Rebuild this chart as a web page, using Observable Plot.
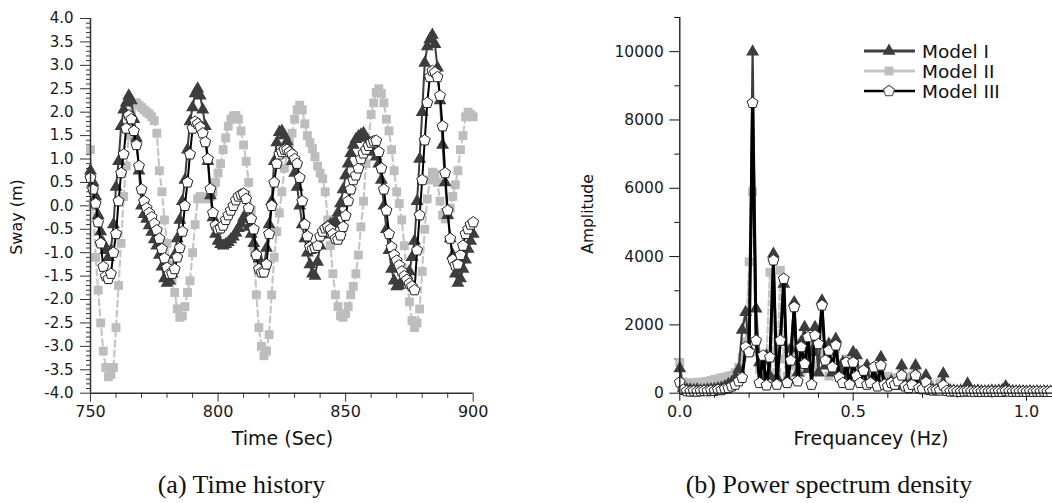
<!DOCTYPE html>
<html><head><meta charset="utf-8">
<script src="https://cdn.jsdelivr.net/npm/d3@7"></script>
<script src="https://cdn.jsdelivr.net/npm/@observablehq/plot@0.6"></script>
<style>
body{margin:0;background:#fff;}
#wrap{position:relative;width:1052px;height:503px;overflow:hidden;background:#fff;}
</style></head><body><div id="wrap"></div>
<script>
// ---------- DATA ----------
const seriesNames = ["Model I", "Model II", "Model III"];

// (a) Time history: sway (m) sampled every 1 s from 750 s to 900 s
const time = d3.range(750, 901, 1);
const swayModelI = [
 0.75,0.5,0.2,-0.2,-0.55,-0.8,-0.95,-1.1,-0.95,-0.4,
 0.4,0.95,1.7,2.05,2.2,2.35,2.25,1.85,1.45,0.75,
 0.0,-0.18,-0.28,-0.42,-0.56,-0.72,-0.85,-1.05,-1.3,-1.55,
 -1.65,-1.6,-1.45,-1.05,-0.7,-0.3,0.1,0.55,1.2,1.8,
 2.1,2.4,2.5,2.35,2.05,1.7,0.95,0.22,-0.25,-0.6,
 -0.75,-0.82,-0.85,-0.82,-0.78,-0.72,-0.66,-0.58,-0.48,-0.38,
 -0.25,-0.28,-0.45,-0.6,-0.8,-1.0,-1.13,-1.28,-1.3,-0.9,
 -0.4,0.1,0.95,1.35,1.57,1.6,1.5,1.38,1.2,0.95,
 0.7,0.4,0.0,-0.4,-0.7,-1.0,-1.25,-1.45,-1.5,-1.2,
 -0.85,-0.62,-0.52,-0.45,-0.4,-0.38,-0.33,-0.15,0.05,0.35,
 0.65,0.9,1.12,1.3,1.42,1.48,1.52,1.55,1.45,1.35,
 1.25,1.15,1.05,0.9,0.55,0.0,-0.5,-0.95,-1.35,-1.6,
 -1.72,-1.7,-1.62,-1.55,-1.48,-1.4,-1.1,-0.75,0.1,1.0,
 2.0,3.05,3.4,3.55,3.65,3.45,2.95,2.25,1.3,0.5,
 -0.2,-0.7,-1.05,-1.45,-1.65,-1.55,-1.35,-1.15,-0.92,-0.75,
 -0.6];
const swayModelII = [
 1.2,0.0,-1.1,-1.8,-2.5,-3.1,-3.45,-3.65,-3.6,-3.45,
 -2.6,-1.7,-0.8,0.2,0.85,1.5,1.95,2.15,2.2,2.15,
 2.1,2.05,2.0,1.96,1.9,1.82,1.55,0.75,0.3,-0.3,
 -0.8,-1.25,-1.6,-1.85,-2.2,-2.38,-2.35,-2.15,-1.85,-1.6,
 -1.0,-0.4,0.15,0.2,0.18,0.15,0.15,0.2,0.3,0.5,
 0.7,0.9,1.2,1.45,1.7,1.85,1.92,1.93,1.85,1.6,
 1.3,0.95,0.5,-0.1,-0.9,-1.9,-2.6,-3.0,-3.2,-3.1,
 -2.75,-1.9,-1.1,-0.55,-0.15,0.3,0.8,1.1,1.35,1.55,
 1.85,2.05,2.15,2.05,1.75,1.5,1.35,1.22,1.05,0.85,
 0.7,0.58,0.3,-0.3,-0.85,-1.45,-1.9,-2.15,-2.35,-2.38,
 -2.3,-2.15,-1.9,-1.72,-1.45,-1.05,-0.45,0.1,0.9,1.4,
 1.95,2.2,2.42,2.5,2.4,2.2,1.85,1.6,1.2,0.75,
 0.3,0.05,-0.3,-0.85,-1.5,-2.05,-2.45,-2.6,-2.5,-2.2,
 -1.4,-0.5,0.15,0.55,0.72,0.68,0.5,0.1,-0.2,-0.28,
 -0.2,-0.05,0.2,0.45,0.75,1.2,1.5,1.9,2.0,1.95,
 1.9];
const swayModelIII = [
 0.6,0.35,0.05,-0.35,-0.8,-1.3,-1.5,-1.56,-1.45,-1.0,
 -0.6,0.1,0.7,1.1,1.65,1.93,1.85,1.6,1.3,0.85,
 0.35,0.1,-0.05,-0.15,-0.24,-0.38,-0.52,-0.7,-0.92,-1.12,
 -1.32,-1.45,-1.45,-1.35,-1.1,-0.9,-0.55,0.0,0.5,1.1,
 1.65,1.8,1.75,1.68,1.55,1.36,1.0,0.36,-0.15,-0.42,
 -0.5,-0.48,-0.42,-0.3,-0.2,-0.1,0.0,0.12,0.2,0.24,
 0.26,0.15,-0.05,-0.28,-0.5,-1.05,-1.35,-1.42,-1.42,-1.25,
 -0.6,0.0,0.5,0.9,1.1,1.15,1.2,1.2,1.15,1.1,
 1.0,0.9,0.6,0.1,-0.4,-0.65,-0.88,-0.92,-0.9,-0.85,
 -0.65,-0.55,-0.48,-0.45,-0.5,-0.6,-0.7,-0.72,-0.63,-0.45,
 -0.21,0.1,0.35,0.55,0.65,0.8,1.0,1.12,1.2,1.28,
 1.35,1.38,1.39,1.15,0.8,0.35,-0.1,-0.6,-0.88,-1.05,
 -1.17,-1.27,-1.4,-1.5,-1.58,-1.66,-1.72,-1.8,-0.95,-0.2,
 0.55,1.4,2.2,2.75,2.88,2.85,2.75,2.35,1.7,0.7,
 -0.1,-0.7,-1.15,-1.27,-1.25,-1.05,-0.85,-0.6,-0.5,-0.4,
 -0.35];

// (b) Power spectrum density: amplitude at 0.01 Hz steps, 0.00 .. 1.07 Hz
const freq = d3.range(0, 108).map(i => i / 100);
const ampModelI = [
 720,150,110,100,90,100,80,90,100,110,
 120,140,160,200,260,320,450,700,1850,2370,
 1300,10000,2470,900,300,1100,500,4080,450,1500,
 3200,400,1300,2660,600,1500,1930,700,1200,1930,
 600,2710,800,1440,600,1590,700,900,500,800,
 1200,1100,400,600,810,300,450,350,1050,300,
 250,350,200,300,810,300,200,350,810,250,
 150,520,150,100,90,120,570,100,80,70,
 60,70,90,275,80,60,70,60,50,60,
 70,60,70,90,196,80,60,50,60,50,
 40,50,40,50,40,50,40,40];
const ampModelII = [
 900,330,300,300,310,320,320,330,350,370,
 400,420,450,470,500,520,600,760,1050,1500,
 3850,5900,1200,700,500,1050,3540,1200,600,3600,
 1000,500,1300,800,1200,600,1500,900,1400,700,
 1300,1000,1200,500,900,1300,600,700,1000,500,
 900,600,700,400,600,500,700,400,800,300,
 500,350,450,250,600,400,300,500,600,300,
 200,350,250,150,120,300,150,100,90,80,
 80,70,80,90,70,80,70,80,70,60,
 70,80,70,60,90,70,60,70,60,70,
 60,70,60,60,70,60,60,60];
const ampModelIII = [
 320,100,60,50,60,50,60,70,60,80,
 70,100,90,130,150,200,250,350,450,1350,
 1200,8500,1540,300,1100,230,1050,3890,250,1540,
 3350,300,960,2520,350,1350,860,1640,250,1690,
 1440,2570,960,1250,760,1400,470,300,900,250,
 900,500,300,660,250,300,760,200,810,250,
 200,300,250,350,520,200,150,250,520,150,
 120,320,100,80,90,80,225,70,50,60,
 50,40,50,60,50,40,50,40,50,40,
 50,40,50,40,60,50,40,50,40,50,
 40,50,40,50,40,50,40,40];

// tick labels
const swayTicks = [-4,-3.5,-3,-2.5,-2,-1.5,-1,-0.5,0,0.5,1,1.5,2,2.5,3,3.5,4];
const timeTicks = [750,800,850,900];
const ampTicks = [0,2000,4000,6000,8000,10000];
const freqTicks = [0,0.5,1.0];

// ---------- STYLE ----------
const C1 = "#3d3d3d", C2 = "#bdbdbd", C2line = "#c6c6c6", C3 = "#000";
const pentagon = {
  draw(ctx, size) {
    const R = Math.sqrt(size / 2.3776);
    for (let k = 0; k < 5; k++) {
      const a = -Math.PI / 2 + k * 2 * Math.PI / 5;
      const x = R * Math.cos(a), y = R * Math.sin(a);
      if (k) ctx.lineTo(x, y); else ctx.moveTo(x, y);
    }
    ctx.closePath();
  }
};
const swayMinor = d3.range(-40, 41).filter(i => i % 5 !== 0).map(i => i / 10);
const timeMinor = d3.range(760, 900, 10).filter(v => v % 50 !== 0);
const ampMinor = [1000,3000,5000,7000,9000,11000];
const freqMinor = [0.1,0.2,0.3,0.4,0.6,0.7,0.8,0.9];

const baseStyle = {fontFamily: "DejaVu Sans, sans-serif", color: "#1a1a1a", background: "transparent", overflow: "visible"};

const timeData = time.map((t, i) => ({t, m1: swayModelI[i], m2: swayModelII[i], m3: swayModelIII[i]}));
const specData = freq.map((f, i) => ({f, m1: ampModelI[i], m2: ampModelII[i], m3: ampModelIII[i]}));

const leftPlot = Plot.plot({
  width: 480, height: 430,
  marginLeft: 90, marginRight: 7.3, marginTop: 18, marginBottom: 37.3,
  x: {domain: [750, 900]},
  y: {domain: [-4, 4]},
  style: {...baseStyle, fontSize: "15px"},
  marks: [
    Plot.axisY(swayTicks, {tickSize: 10, tickPadding: 7, stroke: "#333", tickFormat: d => d.toFixed(1), fontSize: 15, label: null}),
    Plot.axisY(swayMinor, {tickSize: 4, stroke: "#333", tickFormat: () => "", label: null}),
    Plot.axisX(timeTicks, {tickSize: 9, tickPadding: 3, stroke: "#333", tickFormat: d => String(d), fontSize: 16, label: null}),
    Plot.axisX(timeMinor, {tickSize: 5, stroke: "#333", tickFormat: () => "", label: null}),
    Plot.line(timeData, {x: "t", y: "m2", stroke: C2line, strokeWidth: 2.2, strokeDasharray: "6,4"}),
    Plot.dot(timeData, {x: "t", y: "m2", symbol: "square", r: 5, fill: C2, stroke: "none"}),
    Plot.line(timeData, {x: "t", y: "m1", stroke: C1, strokeWidth: 2}),
    Plot.dot(timeData, {x: "t", y: "m1", symbol: "triangle", r: 4.8, fill: C1, stroke: "none"}),
    Plot.line(timeData, {x: "t", y: "m3", stroke: C3, strokeWidth: 2}),
    Plot.dot(timeData, {x: "t", y: "m3", symbol: pentagon, r: 5, fill: "#fff", stroke: "#222", strokeWidth: 1}),
    Plot.ruleX([750], {stroke: "#333", strokeWidth: 1.5}),
    Plot.ruleY([-4], {stroke: "#333", strokeWidth: 1.5})
  ]
});

const rightPlot = Plot.plot({
  width: 492, height: 430,
  marginLeft: 119.3, marginRight: 0, marginTop: 17, marginBottom: 37.3,
  x: {domain: [0, 1.075]},
  y: {domain: [0, 11000]},
  style: {...baseStyle, fontSize: "15.5px"},
  marks: [
    Plot.axisY(ampTicks, {tickSize: 10, tickPadding: 6, stroke: "#111", tickFormat: d => String(d), fontSize: 15.5, label: null}),
    Plot.axisY(ampMinor, {tickSize: 5, stroke: "#111", tickFormat: () => "", label: null}),
    Plot.axisX(freqTicks, {tickSize: 8, tickPadding: 4, stroke: "#111", tickFormat: d => d.toFixed(1), fontSize: 16, label: null}),
    Plot.axisX(freqMinor, {tickSize: 5, stroke: "#111", tickFormat: () => "", label: null}),
    Plot.line(specData, {x: "f", y: "m2", stroke: C2line, strokeWidth: 2.2, strokeDasharray: "6,3"}),
    Plot.dot(specData, {x: "f", y: "m2", symbol: "square", r: 5, fill: C2, stroke: "none"}),
    Plot.line(specData, {x: "f", y: "m1", stroke: C1, strokeWidth: 2.2}),
    Plot.dot(specData, {x: "f", y: "m1", symbol: "triangle", r: 4.8, fill: C1, stroke: "none"}),
    Plot.line(specData, {x: "f", y: "m3", stroke: C3, strokeWidth: 3}),
    Plot.dot(specData, {x: "f", y: "m3", symbol: pentagon, r: 5, fill: "#fff", stroke: "#222", strokeWidth: 1}),
    Plot.ruleX([0], {stroke: "#111", strokeWidth: 1.3}),
    Plot.ruleY([0], {stroke: "#111", strokeWidth: 1.3})
  ]
});

// ---------- LAYOUT ----------
const wrap = document.getElementById("wrap");
function place(node, left, top) {
  node.style.position = "absolute";
  node.style.left = left + "px";
  node.style.top = top + "px";
  wrap.appendChild(node);
}
place(leftPlot, 0, 0);
place(rightPlot, 560, 0);

function label(text, cx, cy, size, rotate, family) {
  const d = document.createElement("div");
  d.textContent = text;
  d.style.cssText = `position:absolute;left:${cx}px;top:${cy}px;font-size:${size}px;line-height:1;white-space:nowrap;` +
    `transform:translate(-50%,-50%)${rotate ? " rotate(-90deg)" : ""};font-family:${family};color:#111;z-index:2;`;
  wrap.appendChild(d);
}
const SANS = '"DejaVu Sans", sans-serif';
const SERIF = '"Liberation Serif", "Times New Roman", serif';
label("Sway (m)", 17, 217, 16, true, SANS);
label("Amplitude", 589, 214, 15.5, true, SANS);
label("Time (Sec)", 282.5, 438, 19, false, SANS);
label("Frequancey (Hz)", 871, 438, 19, false, SANS);
label("(a) Time history", 241.5, 485, 26, false, SERIF);
label("(b) Power spectrum density", 829, 485, 26, false, SERIF);

// legend
const lg = d3.create("svg").attr("width", 202).attr("height", 80)
  .style("position", "absolute").style("left", "850px").style("top", "30px").style("z-index", 3);
const legendStyles = [
  {line: C1, lw: 3, sym: d3.symbol(d3.symbolTriangle, Math.PI * 4.8 * 4.8)(), fill: C1, stroke: "none"},
  {line: C2line, lw: 3, sym: d3.symbol(d3.symbolSquare, Math.PI * 5 * 5)(), fill: C2, stroke: "none"},
  {line: C3, lw: 2.5, sym: d3.symbol(pentagon, Math.PI * 5 * 5)(), fill: "#fff", stroke: "#666"}
];
seriesNames.forEach((name, i) => {
  const y = 21 + i * 20, s = legendStyles[i];
  lg.append("line").attr("x1", 14).attr("x2", 65).attr("y1", y).attr("y2", y)
    .attr("stroke", s.line).attr("stroke-width", s.lw);
  lg.append("path").attr("d", s.sym).attr("transform", `translate(39,${y})`)
    .attr("fill", s.fill).attr("stroke", s.stroke).attr("stroke-width", 1.2);
  lg.append("text").attr("x", 72).attr("y", y + 6.5).text(name)
    .attr("font-family", "DejaVu Sans, sans-serif").attr("font-size", 18.5).attr("fill", "#111");
});
wrap.appendChild(lg.node());
</script>
</body></html>
